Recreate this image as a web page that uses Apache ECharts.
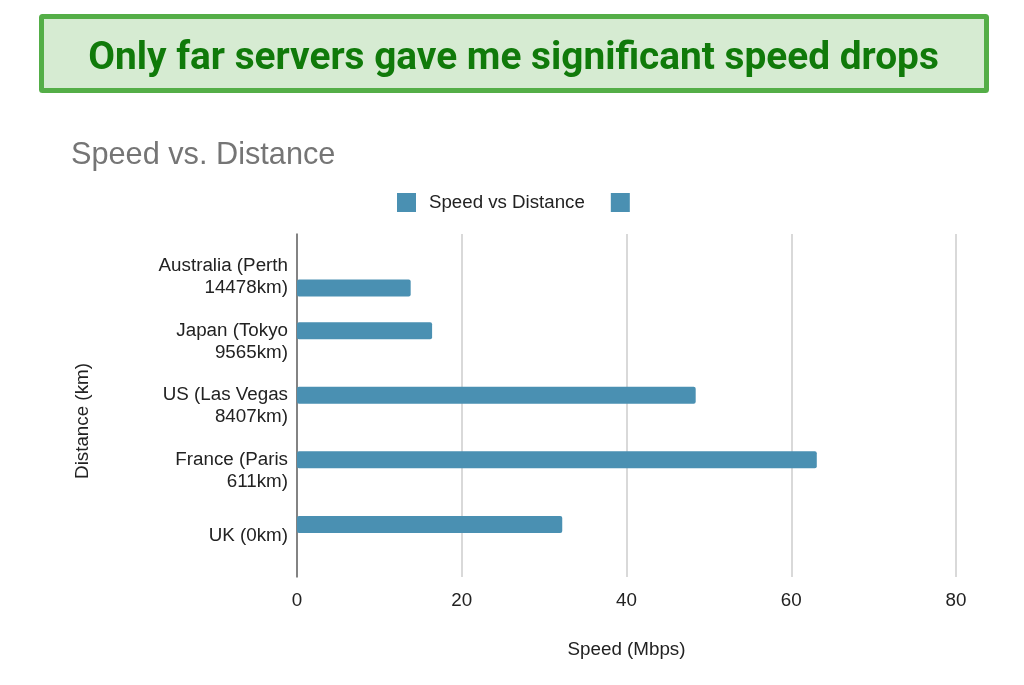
<!DOCTYPE html>
<html>
<head>
    <meta charset="utf-8">
    <title>Speed vs. Distance</title>
    <script src="https://cdn.jsdelivr.net/npm/echarts@6/dist/echarts.min.js"></script>
    <style>
        html, body { margin: 0; padding: 0; background: #fff; }
    </style>
</head>
<body>
<div id="main" style="width: 1024px;height:685px;"></div>
<script type="text/javascript">
    var categories = ['UK (0km)', 'France (Paris\n611km)', 'US (Las Vegas\n8407km)', 'Japan (Tokyo\n9565km)', 'Australia (Perth\n14478km)'];
    // the sheet had two series, Australia sits alone in the second one
    var speedVsDistance = [32.2, 63.1, 48.4, 16.4, null];
    var unnamedSeries = [null, null, null, null, 13.8];
    var speedTicks = { min: 0, max: 80, interval: 20 };

    var barColor = '#4a90b2';
    var font = '"Liberation Sans", Arial, sans-serif';

    var myChart = echarts.init(document.getElementById('main'));

    myChart.setOption({
        animation: false,
        backgroundColor: '#fff',
        title: [
            {
                text: 'Only far servers gave me significant speed drops',
                left: 508.5,
                top: 54.5,
                textAlign: 'center',
                textVerticalAlign: 'middle',
                textStyle: { fontFamily: 'Roboto', fontWeight: 'bold', fontSize: 38.8, color: '#107a0a' }
            },
            {
                text: 'Speed vs. Distance',
                left: 66,
                top: 135,
                textStyle: { fontFamily: font, fontWeight: 'normal', fontSize: 30.7, color: '#757575' }
            }
        ],
        graphic: [{
            type: 'rect',
            z: -1,
            shape: { x: 41.5, y: 16.5, width: 945, height: 74, r: 1 },
            style: { fill: '#d6ebd2', stroke: '#54ae47', lineWidth: 5 }
        }],
        legend: {
            left: 392,
            top: 188,
            itemWidth: 19,
            itemHeight: 19,
            itemGap: 26,
            icon: 'rect',
            textStyle: { fontFamily: font, fontSize: 18.7, color: '#222', padding: [0, 0, 0, 8] },
            data: ['Speed vs Distance', ' ']
        },
        grid: [
            { left: 297, width: 659, top: 234, height: 343 },
            { left: 297, width: 659, top: 244.7, height: 323 }
        ],
        xAxis: [
            {
                gridIndex: 0,
                type: 'value',
                min: speedTicks.min,
                max: speedTicks.max,
                interval: speedTicks.interval,
                name: 'Speed (Mbps)',
                nameLocation: 'middle',
                nameGap: 63,
                nameTextStyle: { fontFamily: font, fontSize: 18.8, color: '#222' },
                axisLine: { show: false },
                axisTick: { show: false },
                axisLabel: { fontFamily: font, fontSize: 18.8, color: '#222', margin: 14 },
                splitLine: { lineStyle: { color: '#ccc', width: 1.5 } }
            },
            {
                gridIndex: 1,
                type: 'value',
                min: speedTicks.min,
                max: speedTicks.max,
                show: false
            }
        ],
        yAxis: [
            {
                gridIndex: 0,
                type: 'category',
                data: categories,
                name: 'Distance (km)',
                nameLocation: 'middle',
                nameGap: 205,
                nameTextStyle: { fontFamily: font, fontSize: 18.8, color: '#222', padding: [0, 31, 0, 0] },
                axisLine: { lineStyle: { color: '#666', width: 1.5 } },
                axisTick: { show: false },
                axisLabel: { show: false }
            },
            {
                gridIndex: 1,
                type: 'category',
                data: categories,
                axisLine: { show: false },
                axisTick: { show: false },
                axisLabel: { fontFamily: font, fontSize: 18.8, color: '#222', lineHeight: 22, margin: 9, align: 'right' }
            }
        ],
        series: [
            {
                name: 'Speed vs Distance',
                type: 'bar',
                xAxisIndex: 1,
                yAxisIndex: 1,
                data: speedVsDistance,
                barWidth: 17,
                barGap: '29%',
                z: 3,
                itemStyle: { color: barColor, borderRadius: 2 }
            },
            {
                name: ' ',
                type: 'bar',
                xAxisIndex: 1,
                yAxisIndex: 1,
                data: unnamedSeries,
                barWidth: 17,
                z: 3,
                itemStyle: { color: barColor, borderRadius: 2 }
            }
        ]
    });
</script>
</body>
</html>
